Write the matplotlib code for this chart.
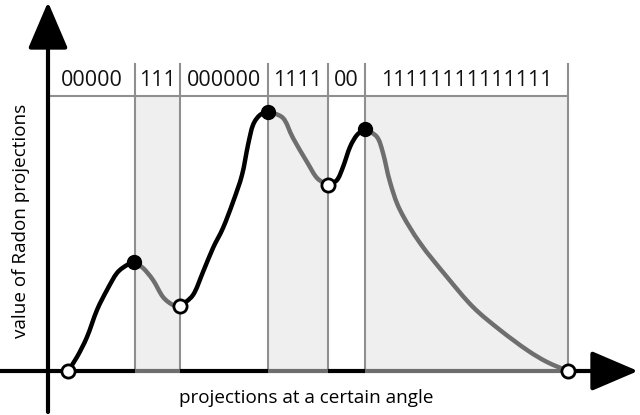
import matplotlib.pyplot as plt
from matplotlib.path import Path
from matplotlib.patches import PathPatch

# curve (x = position along projection axis, y = value)
curve_x = [20, 29, 39, 49, 59, 69, 79, 86, 95, 105, 115, 125, 132, 145, 155, 165,
           175, 185, 194, 200, 205, 212, 220, 235, 245, 259, 269, 280, 289, 295,
           302, 309, 317, 329, 335, 342, 352, 372, 399, 425, 452, 479, 499, 520]
curve_y = [0, 14, 34, 61, 81, 98, 106, 109, 103, 91, 74, 66, 65, 76, 99, 123,
           143, 169, 196, 226, 246, 256, 259, 253, 233, 209, 193, 186, 191, 204,
           224, 236, 242, 234, 218, 189, 161, 128, 94, 64, 41, 21, 9, 0]

# region boundaries and the binary code for each region
bounds = [0, 87, 132, 220, 280, 317, 520]
codes = ["00000", "111", "000000", "1111", "00", "11111111111111"]

peaks_x = [86, 220, 317]
peaks_y = [109, 259, 242]
valleys_x = [20, 132, 280, 520]
valleys_y = [0, 65, 186, 0]

GRAY = "#6e6e6e"
SHADE = "#efefef"
LINE = "#8f8f8f"

plt.rcParams['font.family'] = ['Open Sans', 'DejaVu Sans']


def smooth_path(xs, ys):
    # Catmull-Rom style bezier through the given points
    verts = [(xs[0], ys[0])]
    codes_ = [Path.MOVETO]
    n = len(xs)
    for i in range(n - 1):
        x0, y0 = xs[max(i - 1, 0)], ys[max(i - 1, 0)]
        x1, y1 = xs[i], ys[i]
        x2, y2 = xs[i + 1], ys[i + 1]
        x3, y3 = xs[min(i + 2, n - 1)], ys[min(i + 2, n - 1)]
        c1 = (x1 + (x2 - x0) / 6, y1 + (y2 - y0) / 6)
        c2 = (x2 - (x3 - x1) / 6, y2 - (y3 - y1) / 6)
        verts += [c1, c2, (x2, y2)]
        codes_ += [Path.CURVE4] * 3
    return Path(verts, codes_)


fig = plt.figure(figsize=(6.4, 4.15), dpi=100)
ax = fig.add_axes([0, 0, 1, 1])
ax.set_xlim(-48, 592)
ax.set_ylim(-44, 371)
ax.axis('off')

top = 307
band = 275

# shaded regions (the "1" regions) and region text
for i, code in enumerate(codes):
    x0, x1 = bounds[i], bounds[i + 1]
    if code[0] == "1":
        ax.fill_between([x0, x1], 0, band, color=SHADE, lw=0, zorder=0)
    ax.text((x0 + x1) / 2, 290, code, ha='center', va='center', fontsize=15.5,
            color='#111111')

ax.plot([0, bounds[-1]], [band, band], color=LINE, lw=1.5, zorder=1)
for b in bounds[1:]:
    ax.plot([b, b], [0, top], color=LINE, lw=1.5, zorder=1)

# x axis, coloured per region
ax.plot([-48, bounds[1]], [0, 0], color='k', lw=3, solid_capstyle='butt', zorder=2)
for i, code in enumerate(codes):
    x0, x1 = bounds[i], bounds[i + 1]
    if i == 0:
        continue
    ax.plot([x0, x1], [0, 0], color=GRAY if code[0] == "1" else 'k', lw=3,
            solid_capstyle='butt', zorder=2)
ax.annotate('', xy=(590, 0), xytext=(bounds[-1], 0),
            arrowprops=dict(arrowstyle='-|>,head_length=1.45,head_width=0.62',
                            mutation_scale=20, lw=3, color='k',
                            shrinkA=0, shrinkB=0), zorder=2)
# y axis
ax.annotate('', xy=(0, 369), xytext=(0, -41),
            arrowprops=dict(arrowstyle='-|>,head_length=1.45,head_width=0.62',
                            mutation_scale=20, lw=3, color='k',
                            shrinkA=0, shrinkB=0), zorder=2)

# curve: black where rising, gray where falling
for i, code in enumerate(codes):
    x0, x1 = max(bounds[i], curve_x[0]), bounds[i + 1]
    xs = [x for x in curve_x if x0 - 1 <= x <= x1 + 1]
    ys = [y for x, y in zip(curve_x, curve_y) if x0 - 1 <= x <= x1 + 1]
    ax.add_patch(PathPatch(smooth_path(xs, ys), fill=False,
                           ec=GRAY if code[0] == "1" else 'k', lw=3.2,
                           joinstyle='round', capstyle='round', zorder=3))

ax.plot(peaks_x, peaks_y, 'o', ms=10, color='k', zorder=4)
ax.plot(valleys_x, valleys_y, 'o', ms=9.5, mfc='white', mec='k', mew=2, zorder=4)

ax.text(258, -27, "projections at a certain angle", ha='center', va='center',
        fontsize=13.6)
ax.text(-27, 150, "value of Radon projections", ha='center', va='center',
        rotation=90, fontsize=13.6)

fig.savefig("out.png", dpi=100)
